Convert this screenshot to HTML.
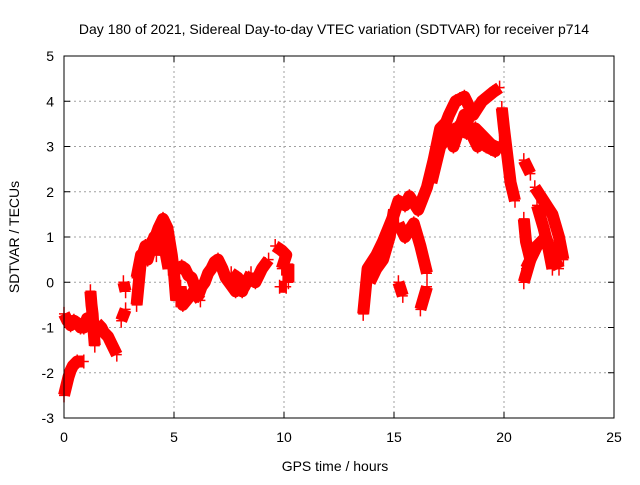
<!DOCTYPE html>
<html><head><meta charset="utf-8"><style>
body{margin:0;background:#fff}
svg text{font-family:"Liberation Sans",sans-serif;font-size:14px;fill:#000}
</style></head><body>
<svg id="c" width="640" height="480">
<text x="334" y="34" text-anchor="middle">Day 180 of 2021, Sidereal Day-to-day VTEC variation (SDTVAR) for receiver p714</text>
<text x="335" y="471" text-anchor="middle">GPS time / hours</text>
<text transform="translate(19,237) rotate(-90)" text-anchor="middle">SDTVAR / TECUs</text>
<g id="grid"></g><g id="ticks"></g><g id="marks"></g>
<rect x="64" y="56" width="550" height="362" fill="none" stroke="#000" stroke-width="1"/>
</svg>
<script>
const xTicks=[0,5,10,15,20,25];
const yTicks=[-3,-2,-1,0,1,2,3,4,5];
// tracks: [time (h), sdtvar (TECU)] pairs
const trackA=[[0,-0.7],[0.15,-0.85],[0.3,-0.95],[0.45,-0.85],[0.6,-0.9],[0.75,-1.0],[0.9,-1.0],[1.05,-0.8],[1.2,-0.85]];
const trackB=[[1.2,-0.2],[1.25,-0.5],[1.3,-0.7],[1.35,-1.1],[1.4,-1.4]];
const trackC=[[1.5,-0.9],[1.7,-1.0],[1.8,-1.1],[2.0,-1.2],[2.1,-1.3],[2.25,-1.45],[2.4,-1.6]];
const trackD=[[0,-2.5],[0.1,-2.3],[0.2,-2.1],[0.3,-1.95],[0.4,-1.85],[0.6,-1.75],[0.9,-1.75]];
const trackE=[[2.6,-0.85],[2.8,-0.6]];
const trackE2=[[2.7,0],[2.8,-0.2]];
const trackF=[[3.3,-0.5],[3.4,0],[3.5,0.5],[3.7,0.8],[3.85,0.75],[4.0,0.9],[4.15,1.0],[4.3,1.2],[4.5,1.4],[4.6,1.3],[4.7,1.2],[4.8,0.9],[4.9,0.6],[5.0,0.2],[5.1,-0.4]];
const trackF2=[[3.3,0.1],[3.5,0.6],[3.8,0.5],[4.1,1.0],[4.4,0.8],[4.6,1.0],[4.8,0.5]];
const trackF3=[[4.2,0.6],[4.4,1.1],[4.6,0.7],[4.75,0.3]];
const trackG=[[5.2,0.2],[5.35,0.35],[5.5,0.3],[5.65,0.15],[5.8,0.1],[5.95,-0.1],[6.1,-0.3],[6.25,-0.1],[6.4,0],[6.55,0.2],[6.7,0.3],[6.85,0.45],[7.0,0.5],[7.1,0.4],[7.2,0.3],[7.35,0.1],[7.5,0],[7.65,-0.1],[7.8,-0.2],[7.95,-0.1],[8.1,-0.2],[8.25,0],[8.4,0.1],[8.55,0.05],[8.7,0],[8.85,0.15],[9.0,0.3],[9.15,0.4],[9.3,0.5]];
const trackG2=[[5.3,-0.1],[5.4,-0.5],[5.9,-0.2],[6.2,-0.4]];
const trackG3=[[7.6,0.2],[7.9,0.1],[8.2,-0.1],[8.5,0.2]];
const trackH=[[9.6,0.8],[9.75,0.75],[9.9,0.7],[10.1,0.6],[9.9,0.3]];
const trackH2=[[9.8,-0.1],[10.1,-0.1]];
const trackH3=[[10.2,0.4],[10.2,0.0]];
const trackI=[[13.6,-0.7],[13.7,-0.2],[13.8,0.3],[14.0,0.45],[14.2,0.6],[14.5,0.9],[14.75,1.2],[15.0,1.5],[15.2,1.8],[15.35,1.75],[15.5,1.7],[15.7,1.9],[15.9,1.75],[16.1,1.6],[16.3,1.85],[16.5,2.1],[16.65,2.4],[16.8,2.7],[16.95,3.05],[17.1,3.4],[17.3,3.5],[17.5,3.3],[17.7,3.0],[17.9,3.3],[18.05,3.5],[18.2,3.7],[18.35,3.5],[18.5,3.3],[18.65,3.15],[18.8,3.0],[19.0,3.1],[19.2,3.0],[19.4,2.95],[19.6,2.9],[19.8,3.1]];
const trackI2=[[16.7,2.2],[16.9,2.6],[17.1,3.0],[17.4,3.2],[17.8,3.4],[18.3,3.3],[18.7,3.4],[19.1,3.2],[19.5,3.0]];
const trackJ=[[17.1,3.2],[17.3,3.45],[17.5,3.7],[17.65,3.85],[17.8,4.0],[18.0,4.05],[18.2,4.1],[18.4,3.9],[18.6,3.7],[18.8,3.85],[19.0,4.0],[19.25,4.1],[19.5,4.2],[19.8,4.3]];
const trackK=[[13.9,0.0],[14.05,0.15],[14.2,0.3],[14.5,0.5],[14.65,0.75],[14.8,1.0],[15.0,1.6]];
const trackL=[[15.2,1.3],[15.35,1.15],[15.5,1.0],[15.7,1.15],[15.9,1.3],[16.05,1.05],[16.2,0.8],[16.35,0.5],[16.5,0.2]];
const trackM=[[16.2,-0.6],[16.35,-0.35],[16.5,-0.1]];
const trackN=[[15.2,0.0],[15.4,-0.3]];
const trackO=[[19.9,3.85],[20.0,3.4],[20.1,3.0],[20.2,2.6],[20.3,2.2],[20.5,1.8]];
const trackP=[[20.9,2.7],[21.2,2.4]];
const trackQ=[[20.9,1.4],[21.0,0.9],[21.2,0.5],[20.9,0.0]];
const trackR=[[21.0,0.3],[21.25,0.55],[21.5,0.8],[21.7,0.9],[21.9,1.0],[22.05,0.8],[22.2,0.6],[22.5,0.3]];
const trackS=[[21.4,2.1],[21.6,1.95],[21.8,1.8],[22.0,1.65],[22.2,1.5],[22.35,1.25],[22.5,1.0],[22.7,0.5]];
const trackT=[[21.5,1.7],[21.65,1.45],[21.8,1.2],[22.0,0.8],[22.2,0.3]];
const tracks=[trackA,trackB,trackC,trackD,trackE,trackE2,trackF,trackF2,trackF3,trackG,trackG2,trackG3,trackH,trackH2,trackH3,trackI,trackI2,trackJ,trackK,trackL,trackM,trackN,trackO,trackP,trackQ,trackR,trackS,trackT];
const X0=64,X1=614,Y0=418,Y1=56;
const sx=t=>X0+(t-0)/(25-0)*(X1-X0);
const sy=v=>Y0-(v+3)/(5+3)*(Y0-Y1);
const NS='http://www.w3.org/2000/svg';
const grid=document.getElementById('grid'),ticks=document.getElementById('ticks'),marks=document.getElementById('marks');
function mk(tag,attrs,parent){const e=document.createElementNS(NS,tag);for(const k in attrs)e.setAttribute(k,attrs[k]);parent.appendChild(e);return e;}
xTicks.forEach(t=>{const x=sx(t);
 if(t>0&&t<25){const g=mk('line',{x1:x,y1:Y0,x2:x,y2:Y1,stroke:'#a0a0a0','stroke-dasharray':'2,3'},grid);
 
 }
 mk('line',{x1:x,y1:Y0,x2:x,y2:Y0-6,stroke:'#000'},ticks);mk('line',{x1:x,y1:Y1,x2:x,y2:Y1+6,stroke:'#000'},ticks);
 const l=mk('text',{x:x,y:Y0+24,'text-anchor':'middle'},ticks);l.textContent=t;
 
 });
yTicks.forEach(v=>{const y=sy(v);
 if(v>-3&&v<5){const g=mk('line',{x1:X0,y1:y,x2:X1,y2:y,stroke:'#a0a0a0','stroke-dasharray':'2,3'},grid);
 
 }
 mk('line',{x1:X0,y1:y,x2:X0+6,y2:y,stroke:'#000'},ticks);mk('line',{x1:X1,y1:y,x2:X1-6,y2:y,stroke:'#000'},ticks);
 const l=mk('text',{x:X0-10,y:y+5,'text-anchor':'end'},ticks);l.textContent=v;
 
 });
tracks.forEach(tr=>{
 const p=mk('polyline',{points:tr.map(d=>sx(d[0])+','+sy(d[1])).join(' '),fill:'none',stroke:'#ff0000','stroke-width':12,'stroke-linejoin':'round','stroke-linecap':'butt'},marks);
 
 
 tr.forEach(d=>{const x=sx(d[0]),y=sy(d[1]);
  const m=mk('path',{d:`M${x-5},${y}H${x+5}M${x},${y-7}V${y+7}`,stroke:'#ff0000','stroke-width':1.5},marks);
  
  });
});
</script>
</body></html>
